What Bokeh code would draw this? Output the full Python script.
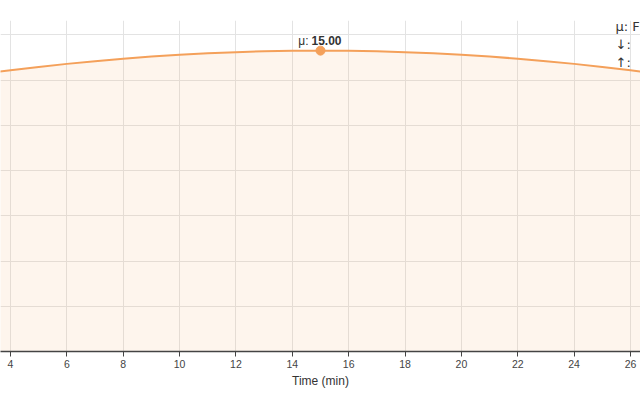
from bokeh.plotting import figure
from bokeh.models import Range1d, SingleIntervalTicker, Label
from bokeh.core.properties import value
from bokeh.embed import file_html
from bokeh.resources import INLINE

# ---- data ----
time_min = [2, 3, 4, 5, 6, 7, 8, 9, 10, 11, 12, 13, 14, 15,
            16, 17, 18, 19, 20, 21, 22, 23, 24, 25, 26, 27, 28]
density = [0.012106, 0.012276, 0.012434, 0.012579, 0.012713, 0.012834, 0.012941,
           0.013035, 0.013115, 0.013180, 0.013232, 0.013268, 0.013291, 0.013298,
           0.013291, 0.013268, 0.013232, 0.013180, 0.013115, 0.013035, 0.012941,
           0.012834, 0.012713, 0.012579, 0.012434, 0.012276, 0.012106]
mu = 15.0
mu_density = 0.013298
x_view = (3.645, 26.355)
y_view = (0.0, 0.01463)
x_tick_step = 2
y_grid_step = 0.002
legend_lines = ["μ: F", "↓\ufe0e:", "↑\ufe0e:"]

FONT = "Liberation Sans"
ORANGE = "#f4a05a"

p = figure(width=640, height=400, output_backend="svg", toolbar_location=None,
           x_range=Range1d(*x_view), y_range=Range1d(*y_view),
           min_border_left=0, min_border_right=0, min_border_top=20, min_border_bottom=49)
p.outline_line_color = None
p.background_fill_color = "white"
p.border_fill_color = "white"

p.varea(x=time_min, y1=0, y2=density, fill_color=ORANGE, fill_alpha=0.11)
p.line(time_min, density, line_color=ORANGE, line_width=2)
p.scatter([mu], [mu_density], size=9, color=ORANGE)

p.text([mu], [mu_density], text=["μ:"], x_offset=-12, y_offset=-10,
       text_align="right", text_baseline="alphabetic",
       text_font=value(FONT), text_font_size="12px", text_color="#333333")
p.text([mu], [mu_density], text=[f"{mu:.2f}"], x_offset=-9, y_offset=-10,
       text_align="left", text_baseline="alphabetic",
       text_font=value(FONT), text_font_size="12px", text_font_style="bold",
       text_color="#333333")

# axes / grid
p.xaxis.ticker = SingleIntervalTicker(interval=x_tick_step)
p.xaxis.axis_label = "Time (min)"
p.xaxis.axis_label_text_font = FONT
p.xaxis.axis_label_text_font_style = "normal"
p.xaxis.axis_label_text_font_size = "12px"
p.xaxis.axis_label_text_color = "#333333"
p.xaxis.axis_label_standoff = 3
p.xaxis.axis_line_color = "#444444"
p.xaxis.axis_line_width = 1.5
p.xaxis.major_tick_line_color = "#444444"
p.xaxis.major_tick_in = 0
p.xaxis.major_tick_out = 5
p.xaxis.minor_tick_line_color = None
p.xaxis.major_label_text_font = FONT
p.xaxis.major_label_text_font_size = "10.5px"
p.xaxis.major_label_text_color = "#444444"
p.xaxis.major_label_standoff = 3

p.yaxis.ticker = SingleIntervalTicker(interval=y_grid_step)
p.yaxis.visible = False
p.ygrid.ticker = SingleIntervalTicker(interval=y_grid_step)
p.grid.grid_line_color = "#e3e3e3"
p.grid.grid_line_width = 1

for i, t in enumerate(legend_lines):
    p.add_layout(Label(x=615, y=325 - 18 * i, x_units="screen", y_units="screen",
                       text=t, text_font="DejaVu Sans", text_font_size="13px",
                       text_color="#333333", text_baseline="middle"))

open("out.html", "w").write(file_html(p, INLINE))
